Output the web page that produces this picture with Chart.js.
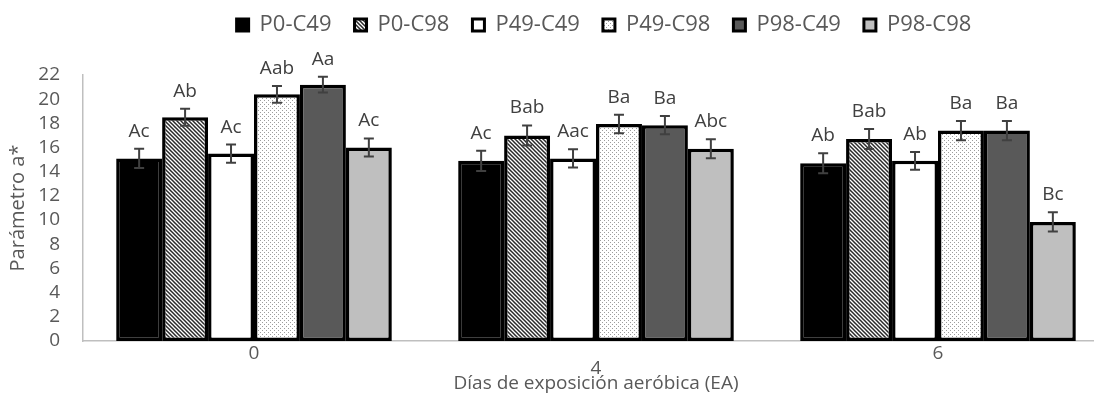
<!DOCTYPE html>
<html>
<head>
<meta charset="utf-8">
<script src="https://cdn.jsdelivr.net/npm/chart.js@4"></script>
<style>
  html, body { margin: 0; padding: 0; background: #fff; overflow: hidden; }
  #wrap { width: 1112px; height: 397px; position: relative; }
</style>
</head>
<body>
<div id="wrap"><canvas id="grafico"></canvas></div>
<script>
const dias = ['0', '4', '6'];
const yTicks = [0, 2, 4, 6, 8, 10, 12, 14, 16, 18, 20, 22];

const p0c49 = [15.1, 14.9, 14.7];
const p0c98 = [18.5, 17.0, 16.7];
const p49c49 = [15.5, 15.1, 14.9];
const p49c98 = [20.4, 17.95, 17.4];
const p98c49 = [21.2, 17.85, 17.4];
const p98c98 = [16.0, 15.9, 9.85];

const errP0c49 = [0.8, 0.83, 0.83];
const errP0c98 = [0.7, 0.83, 0.83];
const errP49c49 = [0.75, 0.76, 0.73];
const errP49c98 = [0.7, 0.76, 0.8];
const errP98c49 = [0.65, 0.76, 0.79];
const errP98c98 = [0.75, 0.79, 0.79];

const letP0c49 = ['Ac', 'Ac', 'Ab'];
const letP0c98 = ['Ab', 'Bab', 'Bab'];
const letP49c49 = ['Ac', 'Aac', 'Ab'];
const letP49c98 = ['Aab', 'Ba', 'Ba'];
const letP98c49 = ['Aa', 'Ba', 'Ba'];
const letP98c98 = ['Ac', 'Abc', 'Bc'];

const FONT = "'Open Sans', sans-serif";
const GRIS = '#595959';

// patrones de relleno
function rayado() {
  const c = document.createElement('canvas');
  c.width = 4; c.height = 4;
  const g = c.getContext('2d');
  g.fillStyle = '#fff';
  g.fillRect(0, 0, 4, 4);
  g.strokeStyle = '#2a2a2a';
  g.lineWidth = 1.5;
  g.beginPath();
  g.moveTo(-1, -1); g.lineTo(5, 5);
  g.moveTo(-1, 3); g.lineTo(1, 5);
  g.moveTo(3, -1); g.lineTo(5, 1);
  g.stroke();
  return g.createPattern(c, 'repeat');
}

function punteado() {
  const c = document.createElement('canvas');
  c.width = 4; c.height = 4;
  const g = c.getContext('2d');
  g.fillStyle = '#fff';
  g.fillRect(0, 0, 4, 4);
  g.fillStyle = '#9c9c9c';
  g.fillRect(0, 0, 1, 1);
  g.fillRect(2, 2, 1, 1);
  return g.createPattern(c, 'repeat');
}

const series = [
  { label: 'P0-C49', data: p0c49, err: errP0c49, letras: letP0c49, fill: '#000000' },
  { label: 'P0-C98', data: p0c98, err: errP0c98, letras: letP0c98, fill: rayado() },
  { label: 'P49-C49', data: p49c49, err: errP49c49, letras: letP49c49, fill: '#ffffff' },
  { label: 'P49-C98', data: p49c98, err: errP49c98, letras: letP49c98, fill: punteado() },
  { label: 'P98-C49', data: p98c49, err: errP98c49, letras: letP98c49, fill: '#595959' },
  { label: 'P98-C98', data: p98c98, err: errP98c98, letras: letP98c98, fill: '#bfbfbf' }
];

// barras de error + letras
const errorBars = {
  id: 'errorBars',
  afterDatasetsDraw(chart) {
    const ctx = chart.ctx;
    const y = chart.scales.y;
    ctx.save();
    chart.data.datasets.forEach((ds, i) => {
      const meta = chart.getDatasetMeta(i);
      meta.data.forEach((bar, j) => {
        const v = ds.data[j];
        const e = ds.err[j];
        const top = y.getPixelForValue(v + e);
        const bot = y.getPixelForValue(v - e);
        ctx.strokeStyle = '#404040';
        ctx.lineWidth = 2;
        ctx.beginPath();
        ctx.moveTo(bar.x, top); ctx.lineTo(bar.x, bot);
        ctx.moveTo(bar.x - 5, top); ctx.lineTo(bar.x + 5, top);
        ctx.moveTo(bar.x - 5, bot); ctx.lineTo(bar.x + 5, bot);
        ctx.stroke();

        ctx.fillStyle = '#404040';
        ctx.font = `19px ${FONT}`;
        ctx.textAlign = 'center';
        ctx.textBaseline = 'alphabetic';
        ctx.fillText(ds.letras[j], bar.x, top - 12);
      });
    });
    ctx.restore();
  }
};

// espacio extra bajo la leyenda y pequeño corrimiento a la derecha
const ajusteLeyenda = {
  id: 'ajusteLeyenda',
  beforeInit(chart) {
    const lg = chart.legend;
    const fitOrig = lg.fit;
    lg.fit = function () {
      fitOrig.call(lg);
      this.height += 30;
    };
    const drawOrig = lg.draw;
    lg.draw = function () {
      chart.ctx.save();
      chart.ctx.translate(8, 1);
      drawOrig.call(lg);
      chart.ctx.restore();
    };
  }
};

new Chart(document.getElementById('grafico'), {
  type: 'bar',
  data: {
    labels: dias,
    datasets: series.map(s => ({
      label: s.label,
      data: s.data,
      err: s.err,
      letras: s.letras,
      backgroundColor: s.fill,
      borderColor: '#000',
      borderWidth: 3.5,
      borderSkipped: false,
      categoryPercentage: 0.806,
      barPercentage: 1.0
    }))
  },
  options: {
    responsive: true,
    maintainAspectRatio: false,
    animation: false,
    layout: { padding: { left: 4, right: 3, top: -10, bottom: 0 } },
    plugins: {
      legend: {
        position: 'top',
        fullSize: false,
        labels: {
          color: GRIS,
          font: { family: FONT, size: 22 },
          boxWidth: 12,
          boxHeight: 12,
          padding: 23,
          generateLabels(chart) {
            return chart.data.datasets.map((ds, i) => ({
              text: ds.label,
              fillStyle: ds.backgroundColor,
              strokeStyle: '#000',
              lineWidth: 3,
              fontColor: GRIS,
              hidden: false,
              datasetIndex: i
            }));
          }
        }
      },
      tooltip: { enabled: false }
    },
    scales: {
      x: {
        grid: { display: false, drawTicks: false },
        border: { display: true, color: '#bfbfbf', width: 1.5 },
        afterFit(scale) { scale.height = 56; },
        ticks: {
          color: GRIS,
          padding: 1,
          font: c => ({ family: FONT, size: 19, lineHeight: c.index === 1 ? 0.95 : 1.2 }),
          callback: (v, i) => i === 1 ? ['', dias[i]] : dias[i]
        },
        title: {
          display: true,
          text: 'Días de exposición aeróbica (EA)',
          color: GRIS,
          font: { family: FONT, size: 19 },
          padding: { top: 0, bottom: 2 }
        }
      },
      y: {
        min: 0,
        max: 22,
        afterBuildTicks(axis) { axis.ticks = yTicks.map(v => ({ value: v })); },
        afterFit(scale) { scale.width = 79; },
        grid: { display: false, drawTicks: false },
        border: { display: true, color: '#bfbfbf', width: 1.5 },
        ticks: {
          color: GRIS,
          padding: 23,
          autoSkip: false,
          font: { family: FONT, size: 19 }
        },
        title: {
          display: true,
          text: 'Parámetro a*',
          color: GRIS,
          font: { family: FONT, size: 20 },
          padding: { top: 2, bottom: 2 }
        }
      }
    }
  },
  plugins: [errorBars, ajusteLeyenda]
});
</script>
</body>
</html>
